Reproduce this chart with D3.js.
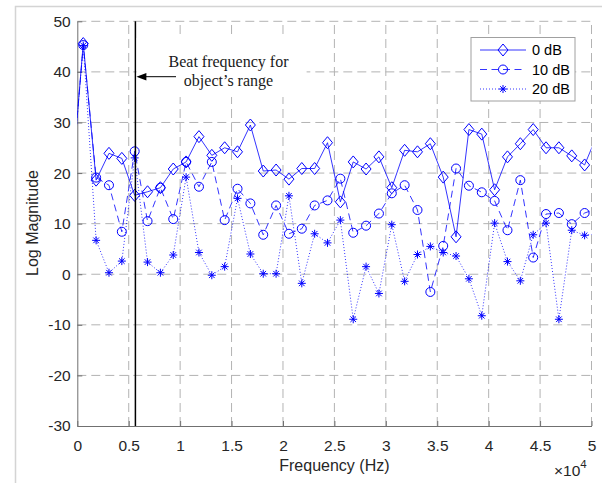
<!DOCTYPE html>
<html><head><meta charset="utf-8">
<script src="https://cdn.jsdelivr.net/npm/d3@7/dist/d3.min.js"></script>
<style>
html,body{margin:0;padding:0;background:#fff;}
svg{display:block;}
text{font-family:"Liberation Sans",Arial,sans-serif;}
</style></head><body>
<script>
// ---------------- data ----------------
const freqHz = [-670, 580, 1830, 3080, 4330, 5580, 6830, 8080, 9330, 10580, 11830, 13080, 14330, 15580, 16830, 18080, 19330, 20580, 21830, 23080, 24330, 25580, 26830, 28080, 29330, 30580, 31830, 33080, 34330, 35580, 36830, 38080, 39330, 40580, 41830, 43080, 44330, 45580, 46830, 48080, 49330, 50580];
const mag0dB = [15, 45.6, 18.6, 23.9, 22.9, 15.6, 16.3, 17.1, 20.8, 22.2, 27.2, 23.5, 25.0, 24.2, 29.5, 20.4, 20.6, 18.8, 20.9, 20.9, 26.0, 14.3, 22.2, 20.8, 23.2, 17.1, 24.5, 24.2, 25.8, 19.2, 7.4, 28.6, 27.7, 16.7, 23.2, 25.8, 28.6, 25.0, 25.0, 23.4, 21.6, 27.7];
const mag10dB = [15, 45.3, 19.1, 17.6, 8.4, 24.3, 10.5, 17.1, 10.9, 22.2, 17.3, 22.2, 10.7, 16.9, 14.0, 7.8, 13.6, 8.0, 9.0, 13.6, 14.6, 18.9, 8.2, 9.6, 12.0, 16.0, 17.6, 12.7, -3.5, 5.6, 20.9, 17.5, 16.2, 14.5, 8.7, 18.6, 3.3, 11.9, 12.1, 9.9, 12.1, 13];
const mag20dB = [15, 45.2, 6.7, 0.3, 2.6, 23.0, 2.4, 0.3, 3.8, 19.2, 4.3, -0.2, 1.5, 15.0, 4.0, 0.1, 0.1, 15.5, -1.8, 8.0, 6.2, 10.7, -8.9, 1.5, -3.8, 9.8, -1.4, 3.9, 5.5, 4.3, 3.6, -0.9, -8.2, 10.1, 2.5, -1.3, 7.8, 10.1, -8.9, 8.7, 7.7, 8];
const seriesNames = ["0 dB", "10 dB", "20 dB"];
const xTicks = [0, 5000, 10000, 15000, 20000, 25000, 30000, 35000, 40000, 45000, 50000];
const xTickLabels = ["0", "0.5", "1", "1.5", "2", "2.5", "3", "3.5", "4", "4.5", "5"];
const yTicks = [-30, -20, -10, 0, 10, 20, 30, 40, 50];
const beatFreqHz = 5650;
const annotationLines = ["Beat frequency for", "object\u2019s range"];
const xLabel = "Frequency (Hz)";
const yLabel = "Log Magnitude";

// ---------------- layout ----------------
const W = 602, H = 483;
const L = 77.3, R = 591.5, T = 21.3, B = 426;
const blue = "#0000ff";

const svg = d3.select("body").append("svg").attr("width", W).attr("height", H);

// figure frame (light gray)
svg.append("path").attr("d", "M15.5,483 V6.5 H602").attr("fill", "none")
  .attr("stroke", "#d4d4d4").attr("stroke-width", 1.5);

const x = d3.scaleLinear().domain([0, 50000]).range([L, R]);
const y = d3.scaleLinear().domain([-30, 50]).range([B, T]);

// grid
const grid = svg.append("g").attr("stroke", "#b3b3b3").attr("stroke-width", 1)
  .attr("stroke-dasharray", "9,5").attr("fill", "none");
xTicks.slice(1).forEach(t => grid.append("line")
  .attr("x1", x(t)).attr("x2", x(t)).attr("y1", B).attr("y2", T));
yTicks.slice(1).forEach(t => grid.append("line")
  .attr("y1", y(t)).attr("y2", y(t)).attr("x1", L).attr("x2", R));

// axes
const axisColor = "#707070", textColor = "#262626";
const xa = svg.append("g").attr("transform", `translate(0,${B})`)
  .call(d3.axisBottom(x).tickValues(xTicks).tickFormat((d, i) => xTickLabels[i])
    .tickSize(-5).tickSizeOuter(0).tickPadding(13.5));
const ya = svg.append("g").attr("transform", `translate(${L},0)`)
  .call(d3.axisLeft(y).tickValues(yTicks).tickFormat(d => d)
    .tickSize(-5).tickSizeOuter(0).tickPadding(6.6));
[xa, ya].forEach(a => {
  a.select(".domain").attr("stroke", axisColor).attr("stroke-width", 1);
  a.selectAll(".tick line").attr("stroke", axisColor);
  a.selectAll(".tick text").attr("fill", textColor).style("font-size", "15.5px")
    .style("font-family", "'Liberation Sans',Arial,sans-serif");
});
ya.selectAll(".tick text").text(d => d < 0 ? "-" + Math.abs(d) : d);

// axis labels
svg.append("text").attr("x", (L + R) / 2).attr("y", 465).attr("dy", "0.35em")
  .attr("text-anchor", "middle").attr("fill", textColor).style("font-size", "16px").text(xLabel);
svg.append("text").attr("transform", "translate(32.7,223) rotate(-90)").attr("dy", "0.35em")
  .attr("text-anchor", "middle").attr("fill", textColor).style("font-size", "16px").text(yLabel);
const mult = svg.append("text").attr("x", 554).attr("y", 476).attr("fill", textColor).style("font-size", "15.5px");
mult.append("tspan").text("\u00d710");
mult.append("tspan").attr("dy", -8).style("font-size", "11.5px").text("4");

// clip
svg.append("defs").append("clipPath").attr("id", "plotclip").append("rect")
  .attr("x", L).attr("y", T).attr("width", R - L).attr("height", B - T);

const series = [
  { name: seriesNames[0], vals: mag0dB, dash: null, marker: "diamond" },
  { name: seriesNames[1], vals: mag10dB, dash: "7,4.5", marker: "circle" },
  { name: seriesNames[2], vals: mag20dB, dash: "1,2", marker: "star" }
];

const line = d3.line().x(d => x(d[0])).y(d => y(d[1]));

function drawMarker(g, type) {
  if (type === "diamond") {
    g.append("path").attr("d", "M0,-6L5,0L0,6L-5,0Z").attr("fill", "none")
      .attr("stroke", blue).attr("stroke-width", 1);
  } else if (type === "circle") {
    g.append("circle").attr("r", 4.5).attr("fill", "none")
      .attr("stroke", blue).attr("stroke-width", 1);
  } else {
    g.append("path").attr("d", "M-4,0H4M0,-4V4M-2.8,-2.8L2.8,2.8M-2.8,2.8L2.8,-2.8")
      .attr("fill", "none").attr("stroke", blue).attr("stroke-width", 1);
  }
}

const plot = svg.append("g").attr("clip-path", "url(#plotclip)");
series.forEach(s => {
  const pts = freqHz.map((f, i) => [f, s.vals[i]]);
  plot.append("path").attr("d", line(pts)).attr("fill", "none")
    .attr("stroke", blue).attr("stroke-width", 0.8)
    .attr("stroke-dasharray", s.dash);
  pts.forEach(p => {
    const g = plot.append("g").attr("transform", `translate(${x(p[0])},${y(p[1])})`);
    drawMarker(g, s.marker);
  });
});

// beat frequency line
svg.append("line").attr("x1", x(beatFreqHz)).attr("x2", x(beatFreqHz))
  .attr("y1", T).attr("y2", B).attr("stroke", "#000").attr("stroke-width", 1.5);

// annotation
svg.append("rect").attr("x", x(beatFreqHz) + 1.2).attr("y", 38).attr("width", 170).attr("height", 59)
  .attr("fill", "#fff");
annotationLines.forEach((t, i) => {
  svg.append("text").attr("x", 228.5).attr("y", 67.3 + i * 18.2).attr("text-anchor", "middle")
    .attr("fill", "#1a1a1a").style("font-family", "'Liberation Serif','Times New Roman',serif")
    .style("font-size", "16px").text(t);
});
const ax = x(beatFreqHz) + 1, ay = 76.7;
svg.append("line").attr("x1", ax + 8).attr("x2", 176).attr("y1", ay).attr("y2", ay)
  .attr("stroke", "#000").attr("stroke-width", 1);
svg.append("path").attr("d", `M${ax},${ay}L${ax + 10},${ay - 3.8}L${ax + 10},${ay + 3.8}Z`).attr("fill", "#000");

// legend
const lg = svg.append("g");
lg.append("rect").attr("x", 471).attr("y", 37.5).attr("width", 104).attr("height", 63.5)
  .attr("fill", "#fff").attr("stroke", "#a0a0a0").attr("stroke-width", 1);
series.forEach((s, i) => {
  const yy = 50 + i * 19.5;
  lg.append("line").attr("x1", 480).attr("x2", 526).attr("y1", yy).attr("y2", yy)
    .attr("stroke", blue).attr("stroke-width", 0.8).attr("stroke-dasharray", s.dash);
  const g = lg.append("g").attr("transform", `translate(503,${yy})`);
  drawMarker(g, s.marker);
  lg.append("text").attr("x", 532).attr("y", yy).attr("dy", "0.35em").attr("fill", "#000")
    .style("font-size", "14.5px").text(s.name);
});
</script>
</body></html>
